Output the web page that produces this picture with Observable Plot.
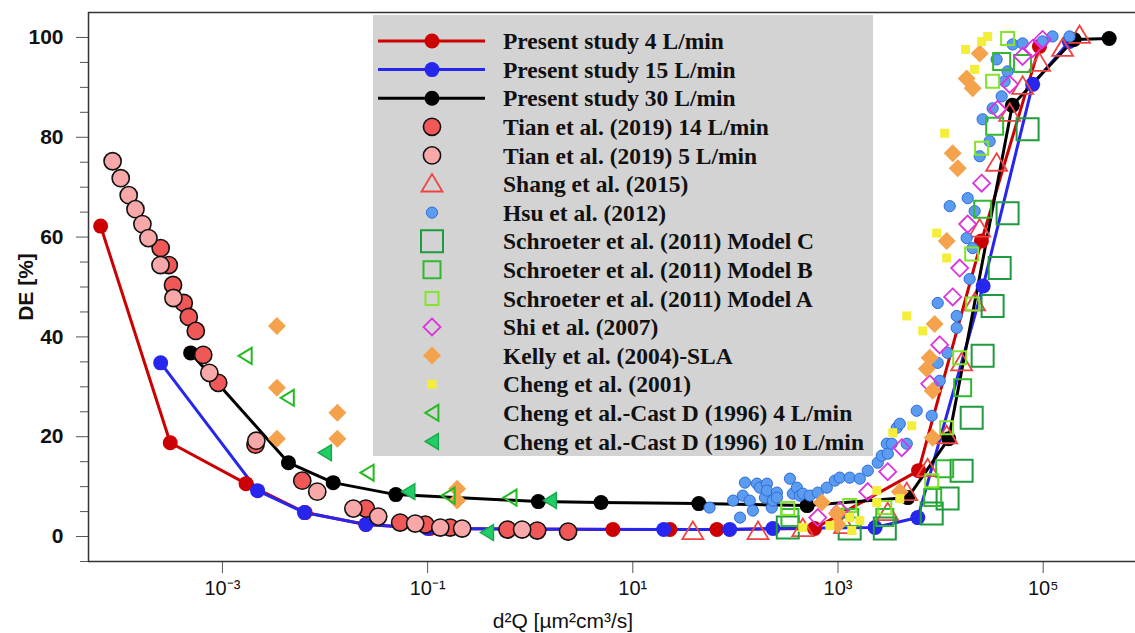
<!DOCTYPE html>
<html><head><meta charset="utf-8">
<script src="https://cdn.jsdelivr.net/npm/d3@7"></script>
<script src="https://cdn.jsdelivr.net/npm/@observablehq/plot@0.6"></script>
<style>html,body{margin:0;padding:0;background:#fff}svg{display:block}</style>
</head><body><div id="chart"></div>
<script>
// ---------- data: [d2Q (µm²cm³/s), DE (%)] ----------
const present4 = [[6.5e-5,62.2],[3.1e-4,18.8],[1.7e-3,10.6],[6.4e-3,4.8],[2.5e-2,2.4],[0.106,1.6],[6.4,1.4],[23,1.4],[66,1.4],[590,1.6],[6100,13.2],[25000,59.2],[92000,98.2]];
const present15 = [[2.5e-4,34.8],[2.2e-3,9.2],[6.3e-3,4.8],[2.5e-2,2.4],[0.1,1.6],[20,1.4],[88,1.4],[232,1.6],[2300,1.8],[6000,3.8],[26000,50.2],[79000,90.6],[180000,99.2]];
const present30 = [[4.9e-4,36.8],[4.4e-3,14.8],[1.2e-2,10.8],[4.9e-2,8.4],[1.2,7.0],[4.9,6.8],[44,6.6],[500,6.2],[4800,7.8],[12000,19.6],[50000,86.4],[200000,99.6],[440000,99.8]];
const tian14 = [[2.5e-4,57.8],[3.0e-4,54.4],[3.3e-4,50.4],[4.2e-4,46.8],[4.7e-4,44.0],[5.5e-4,41.2],[6.5e-4,36.4],[9.1e-4,30.8],[2.1e-3,18.4],[6.0e-3,11.2],[2.5e-2,5.6],[5.4e-2,2.8],[9.5e-2,2.4],[0.166,1.8],[0.6,1.4],[1.17,1.2],[2.34,1.0]];
const tian5 = [[8.5e-5,75.2],[1.02e-4,71.8],[1.22e-4,68.4],[1.42e-4,65.6],[1.66e-4,62.6],[1.9e-4,59.8],[2.49e-4,54.4],[3.33e-4,47.8],[7.46e-4,32.8],[2.14e-3,19.2],[8.4e-3,9.0],[1.89e-2,5.6],[3.3e-2,4.0],[7.57e-2,2.6],[0.133,1.8],[0.217,1.6],[0.834,1.4]];
const shang = [[38.5,1.0],[166,1.0],[454,1.6],[1160,2.2],[3055,4.8],[4680,8.8],[7480,13.6],[11460,20.2],[16030,34.8],[21480,46.8],[24040,61.6],[35160,74.8],[47100,84.8],[63100,90.2],[92300,94.8],[154500,97.8],[226000,100.4]];
const hsu = [[56,5.8],[95,7.2],[111,3.8],[118,8.2],[124,10.8],[138,7.2],[148,5.2],[162,10.6],[173,9.8],[194,7.8],[203,10.6],[203,9.2],[226,5.8],[232,7.2],[254,8.8],[254,7.8],[340,11.6],[363,8.6],[397,9.8],[425,8.2],[454,8.6],[531,8.2],[635,8.8],[778,9.8],[931,11.2],[1040,11.8],[1300,11.8],[1630,11.6],[1950,13.2],[2440,14.8],[2670,16.2],[2990,18.6],[3060,16.6],[3340,18.6],[3740,21.8],[4000,22.6],[4680,18.6],[5850,25.2],[8190,24.2],[9800,31.2],[11700,36.8],[9370,34.8],[14350,41.8],[14350,44.2],[9370,46.8],[19190,51.6],[17950,59.8],[20550,57.8],[12270,66.2],[18370,67.8],[21480,65.2],[24040,76.2],[30060,79.2],[25700,83.6],[32140,85.8],[39360,88.2],[42070,91.2],[44980,93.2],[35160,95.6],[50350,98.6],[62950,98.8],[98630,99.2],[123300,100.2],[180700,100.2]];
const schroeterC = [[324,1.8],[1300,1.6],[2860,1.6],[8190,4.6],[11700,7.6],[16030,13.2],[20090,23.8],[25700,36.2],[32140,46.2],[37670,53.8],[44980,64.8],[70470,81.6]];
const schroeterB = [[340,3.8],[1300,3.8],[2860,3.8],[8380,7.8],[10960,13.6],[16410,29.8],[25700,65.6],[33650,82.2],[39360,95.2],[62950,94.8]];
const schroeterA = [[324,5.6],[1300,6.2],[2860,5.8],[8190,11.2],[11460,21.8],[15350,35.8],[20550,46.6],[20090,56.6],[25120,77.8],[32140,91.2],[44980,99.8]];
const shi = [[635,3.8],[1042,5.2],[1950,9.0],[3055,13.0],[4180,17.8],[7830,30.6],[9800,38.4],[13120,48.0],[15350,53.8],[18370,62.6],[25120,70.8],[35970,85.6],[47100,90.6],[62950,96.2],[78890,97.8],[98630,99.6]];
const kelly = [[3.4e-3,42.2],[3.4e-3,29.8],[3.4e-3,19.6],[1.32e-2,24.8],[1.32e-2,19.6],[0.194,9.6],[0.194,7.2],[695,6.8],[973,4.6],[995,2.4],[4000,9.0],[8380,19.8],[8380,29.2],[7830,35.8],[7330,33.6],[8750,42.6],[11460,59.2],[13120,76.8],[14690,73.8],[17950,91.8],[20550,89.8],[24040,96.8]];
const cheng2001 = [[454,1.8],[832,2.2],[1300,3.8],[1363,1.2],[1630,3.2],[2388,9.2],[2388,6.8],[4000,7.6],[3420,20.8],[5230,22.2],[4677,44.2],[6700,41.2],[9160,60.8],[11460,55.8],[10960,80.8],[17540,97.6],[21480,93.6],[25120,99.2],[28770,100.2]];
const castD4 = [[1.67e-3,36.2],[4.3e-3,27.8],[2.58e-2,12.8],[0.159,8.2],[0.637,7.8]];
const castD10 = [[1.0e-2,16.8],[6.5e-2,9.0],[0.38,0.8],[1.56,7.2]];

const seriesNames = ["Present study 4 L/min","Present study 15 L/min","Present study 30 L/min","Tian et al. (2019) 14 L/min","Tian et al. (2019) 5 L/min","Shang et al. (2015)","Hsu et al. (2012)","Schroeter et al. (2011) Model C","Schroeter et al. (2011) Model B","Schroeter et al. (2011) Model A","Shi et al. (2007)","Kelly et al. (2004)-SLA","Cheng et al. (2001)","Cheng et al.-Cast D (1996) 4 L/min","Cheng et al.-Cast D (1996) 10 L/min"];

const xTicks = [1e-3, 1e-1, 1e1, 1e3, 1e5];
const xTickLabels = ["10\u207B\u00B3","10\u207B\u00B9","10\u00B9","10\u00B3","10\u2075"];
const yTicks = [0, 20, 40, 60, 80, 100];
const yMinorTicks = [-5,5,10,15,25,30,35,45,50,55,65,70,75,85,90,95];

// ---------- symbols ----------
const rad = s => Math.sqrt(s / Math.PI);
const symSquare = {draw(c, s){const r = rad(s); c.moveTo(-r,-r); c.lineTo(r,-r); c.lineTo(r,r); c.lineTo(-r,r); c.closePath();}};
const symDiamond = {draw(c, s){const r = rad(s); c.moveTo(0,-r); c.lineTo(r,0); c.lineTo(0,r); c.lineTo(-r,0); c.closePath();}};
const symTriUp = {draw(c, s){const r = rad(s); c.moveTo(0,-r); c.lineTo(r*1.05,r*0.75); c.lineTo(-r*1.05,r*0.75); c.closePath();}};
const symTriLeft = {draw(c, s){const r = rad(s); c.moveTo(-r*0.85,0); c.lineTo(r*0.8,-r); c.lineTo(r*0.8,r); c.closePath();}};

const series = [
  {data: present4, line: true, symbol: d3.symbolCircle, r: 7.5, fill: "#cc0000", stroke: "none", lineColor: "#cc0000"},
  {data: present15, line: true, symbol: d3.symbolCircle, r: 7.5, fill: "#2626ee", stroke: "none", lineColor: "#2626ee"},
  {data: present30, line: true, symbol: d3.symbolCircle, r: 7.5, fill: "#000000", stroke: "none", lineColor: "#000000"},
  {data: tian14, symbol: d3.symbolCircle, r: 8.6, fill: "#f05858", stroke: "#111", sw: 1.6},
  {data: tian5, symbol: d3.symbolCircle, r: 8.6, fill: "#f8a8a8", stroke: "#111", sw: 1.6},
  {data: shang, symbol: symTriUp, r: 10, fill: "none", stroke: "#ee4444", sw: 1.8},
  {data: hsu, symbol: d3.symbolCircle, r: 5.6, fill: "#5b9cf0", stroke: "#2f6bd8", sw: 1},
  {data: schroeterC, symbol: symSquare, r: 11, fill: "none", stroke: "#1f9a3f", sw: 2},
  {data: schroeterB, symbol: symSquare, r: 8.5, fill: "none", stroke: "#30b830", sw: 2},
  {data: schroeterA, symbol: symSquare, r: 6.5, fill: "none", stroke: "#84e42a", sw: 2},
  {data: shi, symbol: symDiamond, r: 8.5, fill: "none", stroke: "#dd33dd", sw: 1.8},
  {data: kelly, symbol: symDiamond, r: 9, fill: "#f5a24c", stroke: "none"},
  {data: cheng2001, symbol: symSquare, r: 4.5, fill: "#f4ee3a", stroke: "none"},
  {data: castD4, symbol: symTriLeft, r: 8, fill: "none", stroke: "#22bb22", sw: 2},
  {data: castD10, symbol: symTriLeft, r: 8, fill: "#22cc66", stroke: "#17a84a", sw: 1.4}
];

const xDomain = [4.95e-5, 7.94e5];
const yDomain = [-5, 105];

const marks = [
  Plot.axisY({ticks: yMinorTicks, tickSize: 8, tickFormat: () => "", stroke: "#555"}),
  Plot.axisY({ticks: yTicks, tickSize: 12, tickPadding: 13, fontSize: 21, fontWeight: "bold", stroke: "#555", fill: "#111"}),
  Plot.axisX({ticks: xTicks, tickSize: 12, tickPadding: 7, fontSize: 20, stroke: "#555", fill: "#111",
    tickFormat: d => xTickLabels[xTicks.indexOf(d)]}),
  Plot.ruleY([yDomain[0], yDomain[1]], {stroke: "#333", strokeWidth: 1.5}),
  Plot.ruleX([xDomain[0]], {stroke: "#333", strokeWidth: 1.5})
];
series.filter(s => s.line).forEach(s => {
  marks.push(Plot.line(s.data, {x: d => d[0], y: d => d[1], stroke: s.lineColor, strokeWidth: 3}));
});
series.forEach(s => {
  marks.push(Plot.dot(s.data, {x: d => d[0], y: d => d[1], r: s.r, symbol: s.symbol,
    fill: s.fill, stroke: s.stroke, strokeWidth: s.sw || 1}));
});

const svgNode = Plot.plot({
  width: 1135, height: 633,
  marginLeft: 88, marginRight: 0, marginTop: 12, marginBottom: 72,
  style: {fontFamily: "'Liberation Sans', Arial, sans-serif", fontSize: "20px", color: "#111", background: "#fff"},
  x: {type: "log", domain: xDomain},
  y: {domain: yDomain},
  marks
});
document.getElementById("chart").appendChild(svgNode);

const svg = d3.select(svgNode);
svg.append("text").attr("x", 563).attr("y", 628).attr("text-anchor", "middle")
  .attr("font-family", "'Liberation Sans', Arial, sans-serif").attr("font-size", 21).attr("fill", "#111")
  .text("d\u00B2Q [\u00B5m\u00B2cm\u00B3/s]");
svg.append("text").attr("transform", "translate(33,287) rotate(-90)").attr("text-anchor", "middle")
  .attr("font-family", "'Liberation Sans', Arial, sans-serif").attr("font-size", 21).attr("font-weight", "bold").attr("fill", "#111")
  .text("DE [%]");

// legend
const lg = svg.append("g").attr("text-anchor", "start");
lg.append("rect").attr("x", 373).attr("y", 15).attr("width", 500).attr("height", 441).attr("fill", "#d3d3d3");
series.forEach((s, i) => {
  const cy = 41 + i * 28.6;
  if (s.line) {
    lg.append("line").attr("x1", 378).attr("x2", 485).attr("y1", cy).attr("y2", cy)
      .attr("stroke", s.lineColor).attr("stroke-width", 3);
  }
  lg.append("path").attr("transform", `translate(432,${cy})`)
    .attr("d", d3.symbol(s.symbol, Math.PI * s.r * s.r)())
    .attr("fill", s.fill).attr("stroke", s.stroke).attr("stroke-width", s.sw || 1);
  lg.append("text").attr("x", 503).attr("y", cy).attr("dy", "0.35em").attr("text-anchor", "start")
    .attr("font-family", "'Liberation Serif', 'Times New Roman', serif").attr("font-weight", "bold")
    .attr("font-size", 23.5).attr("fill", "#111").text(seriesNames[i]);
});
</script>
</body></html>
